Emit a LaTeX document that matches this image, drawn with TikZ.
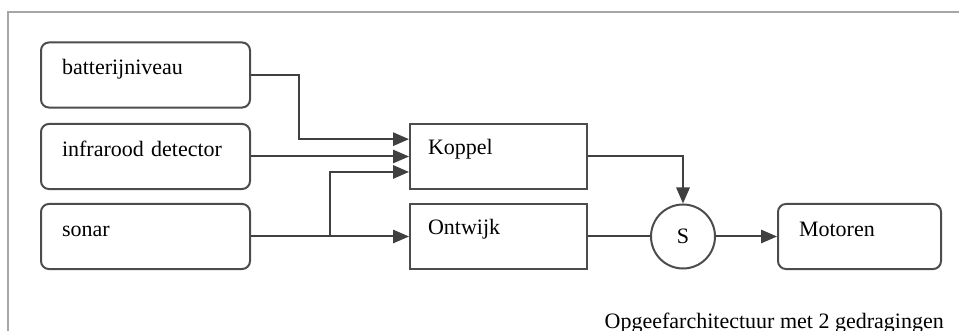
\documentclass[tikz,border=0pt]{standalone}
\usepackage{fontspec}
\setmainfont{Liberation Serif}
\usetikzlibrary{arrows.meta}

\tikzset{
    sensor/.style={draw, rounded corners=6pt, line width=1.5pt, draw=black!70,
        align=left, text width=125.25pt, inner xsep=15.75pt, inner ysep=0pt,
        text height=24.4pt, text depth=24.4pt},
    behaviour/.style={draw, line width=1.5pt, draw=black!70,
        align=left, text width=105.75pt, inner xsep=13.5pt, inner ysep=0pt,
        text height=23pt, text depth=25.8pt},
    actuator/.style={sensor, text width=90.75pt},
    suppress/.style={draw, circle, line width=1.5pt, draw=black!70,
        minimum size=48pt, inner sep=0pt},
    wire/.style={line width=1.5pt, draw=black!75},
    arr/.style={wire, -{Triangle[length=12pt, width=10pt]}}
}

\begin{document}
\begin{tikzpicture}[x=0.75pt, y=-0.75pt,
    font=\fontsize{16.5}{20}\selectfont]

    \useasboundingbox (0, 0) rectangle (959, 331);

    % frame
    \draw[line width=2.2pt, black!35]
        (8, 331) -- (8, 12) -- (959, 12);

    % sensors
    \node[sensor] (bat) at (145.5, 75) {batterijniveau};
    \node[sensor] (ird) at (145.5, 156.5) {infrarood detector};
    \node[sensor] (son) at (145.5, 236.5) {sonar};

    % behaviours
    \node[behaviour] (kop) at (498.5, 156.5) {Koppel};
    \node[behaviour] (ont) at (498.5, 236.5) {Ontwijk};

    \node[suppress] (sup) at (683, 236.5) {S};
    \node[actuator] (mot) at (859.5, 236.5) {Motoren};

    \coordinate (split) at (330, 236.5);

    % inputs
    \draw[arr]
        (bat.east) -- ++(48, 0) |- ([yshift=13pt]kop.west);
    \draw[arr]
        (ird.east) -- (kop.west);
    \draw[arr]
        (son.east) -- (ont.west);
    \draw[arr]
        (split) |- ([yshift=-11.6pt]kop.west);

    % outputs
    \draw[arr]
        (kop.east) -| (sup.north);
    \draw[wire]
        (ont.east) -- (sup.west);
    \draw[arr]
        (sup.east) -- (mot.west);

    \node[anchor=base east, inner sep=0pt] (caption) at (944, 328)
        {Opgeefarchitectuur met 2 gedragingen};

\end{tikzpicture}
\end{document}
